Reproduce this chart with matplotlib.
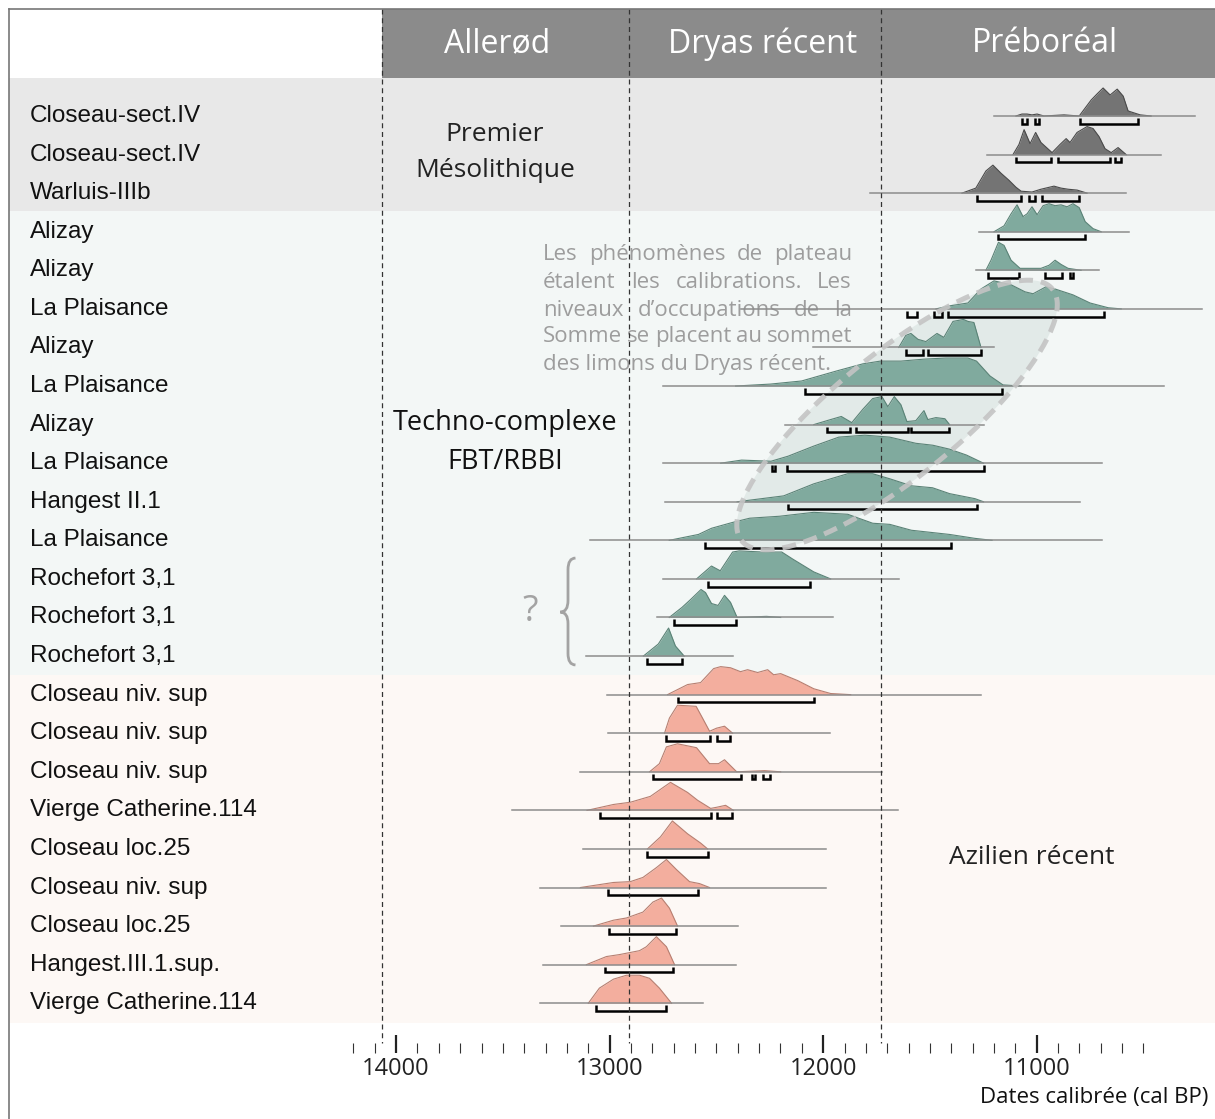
import numpy as np
import matplotlib
matplotlib.use('Agg')
import matplotlib.pyplot as plt
from matplotlib.lines import Line2D
from matplotlib.patches import Polygon, PathPatch
from matplotlib.path import Path
from matplotlib.transforms import blended_transform_factory

plt.rcParams['font.family'] = ['Open Sans', 'DejaVu Sans']

# sites, top to bottom
labels = ["Closeau-sect.IV", "Closeau-sect.IV", "Warluis-IIIb",
          "Alizay", "Alizay", "La Plaisance", "Alizay", "La Plaisance",
          "Alizay", "La Plaisance", "Hangest II.1", "La Plaisance",
          "Rochefort 3,1", "Rochefort 3,1", "Rochefort 3,1",
          "Closeau niv. sup", "Closeau niv. sup", "Closeau niv. sup",
          "Vierge Catherine.114", "Closeau loc.25", "Closeau niv. sup",
          "Closeau loc.25", "Hangest.III.1.sup.", "Vierge Catherine.114"]
cultures = ['meso'] * 3 + ['fbt'] * 12 + ['azil'] * 9

# extent of the calibration line (cal BP, old -> young)
spans = [(11200, 10257), (11235, 10417), (11782, 10581), (11270, 10567),
         (11285, 10708), (12387, 10226), (12049, 11200), (12748, 10403),
         (12178, 11249), (12752, 10694), (12741, 10797), (13090, 10694),
         (12752, 11646), (12780, 11955), (13109, 12424), (13012, 11261),
         (13006, 11969), (13137, 11725), (13457, 11650), (13123, 11988),
         (13325, 11988), (13226, 12401), (13311, 12410), (13325, 12565)]

# calibrated probability (cal BP, relative density, peak = 1)
densities = [
    [(11097, 0), (11069, .07), (11045, .07), (11022, .04), (10998, .07), (10966, 0), (10872, .04),
     (10801, 0), (10745, .57), (10717, .79), (10689, 1), (10656, .75), (10623, .96), (10595, .71),
     (10572, .18), (10544, .11), (10515, .04), (10464, 0)],
    [(11111, 0), (11083, .36), (11059, .89), (11031, .39), (11005, .79), (10980, .43), (10928, .07),
     (10891, .36), (10862, .57), (10844, .43), (10811, .79), (10764, 1), (10736, .93), (10708, .64),
     (10680, .21), (10651, .07), (10619, .25), (10581, 0)],
    [(11350, 0), (11285, .18), (11238, .79), (11205, 1), (11167, .71), (11130, .46), (11097, .21),
     (11073, .07), (11022, .04), (10980, .14), (10919, .25), (10886, .18), (10853, .14), (10811, .11),
     (10764, 0)],
    [(11200, 0), (11153, .21), (11120, .64), (11092, .96), (11064, .54), (11045, .64), (11022, .89),
     (10998, .61), (10970, .93), (10942, 1), (10914, .93), (10886, .96), (10858, .89), (10830, 1),
     (10801, .86), (10773, .36), (10736, .11), (10698, 0)],
    [(11238, 0), (11214, .36), (11179, 1), (11153, .89), (11120, .36), (11078, .07), (10980, .07),
     (10942, .18), (10914, .36), (10886, .21), (10853, .07), (10792, 0)],
    [(11472, 0), (11406, .11), (11322, .21), (11261, .71), (11200, 1), (11120, .86), (11055, .61),
     (11017, .54), (10956, .79), (10914, .71), (10830, .5), (10750, .21), (10665, .04), (10604, 0)],
    [(11646, 0), (11613, .43), (11589, .5), (11556, .29), (11519, .21), (11467, .5), (11435, .36),
     (11392, .93), (11343, 1), (11322, .93), (11294, .89), (11261, 0)],
    [(12410, 0), (12246, .07), (12101, .18), (11936, .54), (11815, .79), (11732, .89), (11636, .89),
     (11528, .96), (11425, 1), (11322, 1), (11282, .89), (11219, .36), (11158, .04), (11073, 0)],
    [(12044, 0), (11965, .18), (11915, .29), (11866, .07), (11815, .54), (11768, .93), (11725, 1),
     (11697, .64), (11667, 1), (11636, .71), (11608, .11), (11566, .14), (11528, .5), (11510, .18),
     (11472, .25), (11430, .21), (11408, 0)],
    [(12480, 0), (12382, .11), (12244, .07), (12164, .25), (12044, .61), (11927, .93), (11805, 1),
     (11688, .93), (11566, .71), (11486, .64), (11408, .5), (11329, .29), (11249, 0)],
    [(12403, 0), (12185, .21), (12044, .64), (11885, 1), (11768, 1), (11688, .82), (11587, .57),
     (11488, .5), (11408, .29), (11289, .11), (11249, 0)],
    [(12721, 0), (12584, .21), (12523, .43), (12424, .64), (12344, .79), (12204, .86), (12044, 1),
     (11885, .93), (11768, .61), (11688, .57), (11587, .36), (11408, .21), (11289, .07), (11209, 0)],
    [(12593, 0), (12523, .46), (12482, .29), (12424, .96), (12393, 1), (12283, .96), (12194, .96),
     (12143, .71), (12044, .25), (11965, 0)],
    [(12721, 0), (12661, .36), (12621, .64), (12572, 1), (12551, .89), (12523, .5), (12492, .43),
     (12462, .79), (12434, .54), (12403, 0), (12265, .04), (12199, 0)],
    [(12842, 0), (12772, .43), (12724, 1), (12692, .36), (12651, 0)],
    [(12729, 0), (12635, .36), (12574, .43), (12513, .93), (12480, 1), (12434, .96), (12387, .82),
     (12354, .89), (12307, .79), (12260, .89), (12232, .71), (12199, .75), (12119, .5), (12044, .21),
     (11965, .04), (11871, 0)],
    [(12743, 0), (12720, .54), (12682, 1), (12595, .96), (12565, .54), (12532, .07), (12499, .18),
     (12462, .25), (12424, 0)],
    [(12813, 0), (12767, .29), (12734, .89), (12682, 1), (12593, .86), (12532, .29), (12490, .29),
     (12462, .43), (12405, 0), (12274, .04), (12199, 0)],
    [(13106, 0), (12982, .21), (12903, .29), (12809, .5), (12715, 1), (12635, .64), (12588, .36),
     (12527, .07), (12499, .11), (12457, .18), (12420, 0)],
    [(12823, 0), (12762, .43), (12706, 1), (12635, .54), (12574, .21), (12541, 0)],
    [(13137, 0), (12982, .18), (12903, .21), (12844, .36), (12781, .71), (12734, 1), (12687, .64),
     (12626, .21), (12579, .14), (12532, 0)],
    [(13076, 0), (12982, .21), (12921, .29), (12844, .5), (12797, .86), (12757, 1), (12720, .64),
     (12682, 0)],
    [(13109, 0), (13015, .29), (12954, .36), (12860, .5), (12828, .64), (12781, 1), (12734, .64),
     (12696, 0)],
    [(13100, 0), (13048, .54), (12982, .86), (12921, 1), (12860, 1), (12813, .89), (12767, .54),
     (12710, 0)],
]

# 95.4 % ranges
ranges = [
    [(11069, 11045), (11006, 10990), (10797, 10525)],
    [(11097, 10933), (10900, 10656), (10633, 10605)],
    [(11280, 11073), (11036, 11008), (10975, 10801)],
    [(11179, 10773)],
    [(11228, 11083), (10961, 10881), (10846, 10832)],
    [(11608, 11561), (11482, 11444), (11416, 10684)],
    [(11613, 11533), (11510, 11261)],
    [(12087, 11163)],
    [(11981, 11875), (11847, 11603), (11587, 11411)],
    [(12238, 12224), (12171, 11249)],
    [(12164, 11279)],
    [(12555, 11402)],
    [(12541, 12064)],
    [(12697, 12410)],
    [(12823, 12659)],
    [(12682, 12044)],
    [(12738, 12532), (12499, 12438)],
    [(12795, 12387), (12333, 12319), (12281, 12251)],
    [(13043, 12527), (12499, 12429)],
    [(12823, 12541)],
    [(13007, 12584)],
    [(13001, 12687)],
    [(13024, 12701)],
    [(13062, 12738)],
]

boundaries = [14065, 12909, 11729]
period_names = ['Allerød', 'Dryas récent', 'Préboréal']
period_pos = [13527, 12282, 10961]

note_lines = ["Les phénomènes de plateau",
              "étalent les calibrations. Les",
              "niveaux d\u2019occupations de la",
              "Somme se placent au sommet",
              "des limons du Dryas récent."]

styles = {'meso': ('#747474', '#4a4a4a', '#e8e8e8'),
          'fbt': ('#80aa9e', '#5b8377', '#f3f7f6'),
          'azil': ('#f3ae9e', '#b77f71', '#fdf8f5')}
band_edges = {'meso': (-0.985, 2.45), 'fbt': (2.45, 14.5), 'azil': (14.5, 23.5)}

W, H = 1215, 1119
XL, XR = 15855, 10165
YB, YT = 24.29, -3.007
fig = plt.figure(figsize=(W / 100, H / 100), dpi=100)
ax = fig.add_axes([0, 66 / H, 1, 1053 / H])
ax.set_xlim(XL, XR)
ax.set_ylim(YB, YT)
for s in ax.spines.values():
    s.set_visible(False)
ax.set_yticks([])
ax.patch.set_alpha(0)

px_yr = W / (XL - XR)
px_row = 1053 / (YB - YT)


def xfrac(yr):
    return (XL - yr) / (XL - XR)


# background bands
for key, (top, bot) in band_edges.items():
    ax.axhspan(top, bot, xmin=9 / W, xmax=1, color=styles[key][2], lw=0, zorder=0)
ax.axhspan(-2.774, -0.985, xmin=xfrac(boundaries[0]), xmax=1, color='#8b8b8b', lw=0, zorder=0)
for name, pos in zip(period_names, period_pos):
    ax.text(pos, -1.87, name, color='white', fontsize=23, ha='center', va='center', zorder=8)

# plateau ellipse
t = np.linspace(0, 2 * np.pi, 200)
th = np.radians(39)
a, b = 200, 62
dx = a * np.cos(t) * np.cos(th) - b * np.sin(t) * np.sin(th)
dy = a * np.cos(t) * np.sin(th) + b * np.sin(t) * np.cos(th)
ex = 11654 - dx / px_yr
ey = 7.75 - dy / px_row
ax.add_patch(Polygon(np.column_stack([ex, ey]), closed=True, fc='#e2eae8', ec='none', zorder=1))
ax.plot(ex, ey, color='#c4c4c4', lw=3.6, linestyle=(0, (2.8, 1.6)), alpha=0.9, zorder=6)

# distributions
peak_h = 0.726
row_tr = blended_transform_factory(ax.transAxes, ax.transData)
for i, pts in enumerate(densities):
    fill, edge, _ = styles[cultures[i]]
    yrs = [p[0] for p in pts]
    top = [i - p[1] * peak_h for p in pts]
    ax.fill_between(yrs, i, top, color=fill, lw=0, zorder=3)
    ax.plot(yrs, top, color=edge, lw=0.8, zorder=3)
    ax.plot(spans[i], [i, i], color='#8c8c8c', lw=1.1, zorder=4)
    for r0, r1 in ranges[i]:
        ax.plot([r0, r0, r1, r1], [i + 0.05, i + 0.2, i + 0.2, i + 0.05], color='black',
                lw=1.8, solid_joinstyle='miter', solid_capstyle='butt', zorder=5)
    ax.text(30 / W, i, labels[i], transform=row_tr, ha='left', va='center',
            fontsize=17.5, family='Liberation Sans', color='#111111')

# chronozone limits
ax.vlines(boundaries, -2.774, 24.03, colors='#333333', linestyles=(0, (4, 3)), lw=0.9, zorder=7)

# cultural groups
ax.text(13537, 0.49, 'Premier', fontsize=19, ha='center', va='center', color='#222222')
ax.text(13537, 1.40, 'Mésolithique', fontsize=19, ha='center', va='center', color='#222222')
ax.text(13490, 7.96, 'Techno-complexe', fontsize=19.5, ha='center', va='center', color='#111111')
ax.text(13490, 8.97, 'FBT/RBBI', fontsize=19.5, ha='center', va='center', color='#111111')
ax.text(11022, 19.21, 'Azilien récent', fontsize=19, ha='center', va='center', color='#222222')

# question mark and brace for Rochefort
ax.text(13373, 12.86, '?', fontsize=26, ha='center', va='center', color='#a3a3a3')
xa, xm, xt = 13160, 13195, 13231
top, mid, bot = 11.46, 12.86, 14.23
brace = Path([(xa, top), (xm, top), (xm, top + 0.3), (xm, mid - 0.3), (xm, mid), (xt, mid),
              (xm, mid), (xm, mid + 0.3), (xm, bot - 0.3), (xm, bot), (xa, bot)],
             [Path.MOVETO, Path.CURVE3, Path.CURVE3, Path.LINETO, Path.CURVE3, Path.CURVE3,
              Path.CURVE3, Path.CURVE3, Path.LINETO, Path.CURVE3, Path.CURVE3])
ax.add_patch(PathPatch(brace, fc='none', ec='#a3a3a3', lw=2, zorder=6))

# justified note
note_left, note_right = 13312, 11865
note_rows = [3.60, 4.31, 5.03, 5.72, 6.45]
renderer = fig.canvas.get_renderer()
xl = ax.transData.transform((note_left, 0))[0]
xr = ax.transData.transform((note_right, 0))[0]
for k, (line, row) in enumerate(zip(note_lines, note_rows)):
    if k == len(note_lines) - 1:
        ax.text(note_left, row, line, ha='left', va='center', fontsize=16, color='#9d9d9d', zorder=2)
        continue
    words = line.split()
    texts = [ax.text(note_left, row, w, ha='left', va='center', fontsize=16,
                     color='#9d9d9d', zorder=2) for w in words]
    widths = [tx.get_window_extent(renderer).width for tx in texts]
    gap = (xr - xl - sum(widths)) / (len(words) - 1)
    x = xl
    for tx, w in zip(texts, widths):
        tx.set_x(ax.transData.inverted().transform((x, 0))[0])
        x += w + gap

# time scale
ax.set_xticks([14000, 13000, 12000, 11000])
ax.set_xticks([v for v in range(10500, 14201, 100) if v % 1000], minor=True)
ax.tick_params(axis='x', which='major', direction='in', length=13, width=1.6, pad=3,
               labelsize=17, colors='#222222')
ax.tick_params(axis='x', which='minor', direction='in', length=7, width=0.8, colors='#333333')
fig.text(1208 / W, 1 - 1098 / H, 'Dates calibrée (cal BP)', ha='right', va='center',
         fontsize=16, color='#111111')

# frame
fig.add_artist(Line2D([8.5 / W, 8.5 / W], [0, 1 - 8.5 / H], color='#777777', lw=1.2))
fig.add_artist(Line2D([8.5 / W, 1], [1 - 8.5 / H, 1 - 8.5 / H], color='#777777', lw=1.2))

fig.savefig('out.png', dpi=100)
